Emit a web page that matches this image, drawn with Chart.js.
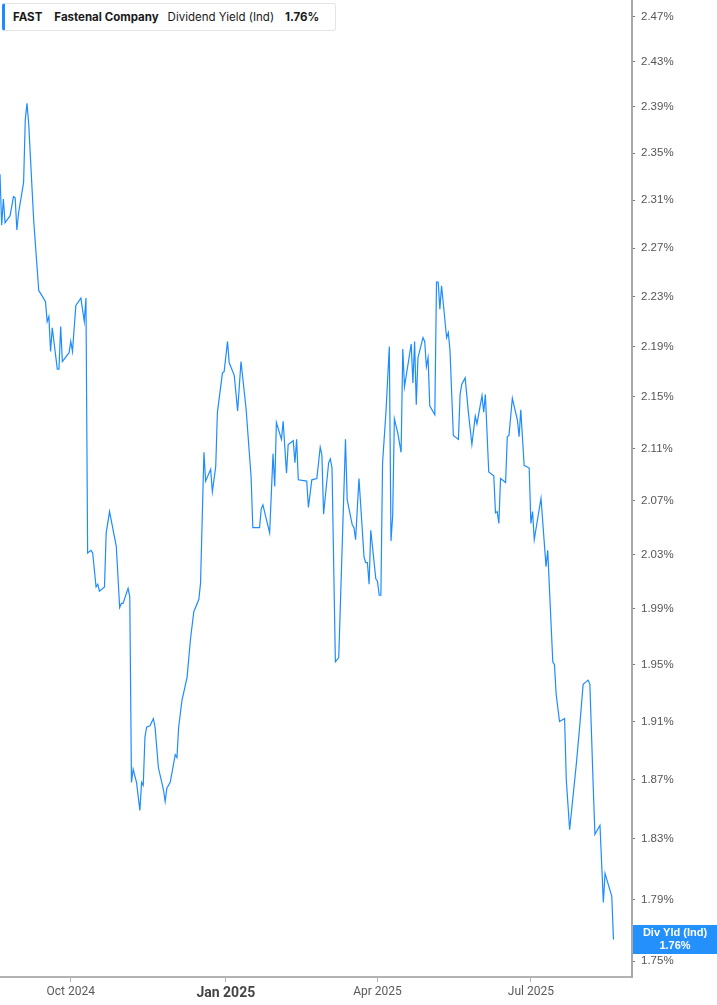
<!DOCTYPE html>
<html>
<head>
<meta charset="utf-8">
<script src="https://cdn.jsdelivr.net/npm/chart.js@4.4.1/dist/chart.umd.min.js"></script>
<style>
  html, body { margin: 0; padding: 0; background: #fff; }
  #wrap { position: relative; width: 717px; height: 1005px; }
  #c { position: absolute; left: 0; top: 0; }
  #legend {
    position: absolute; left: 2px; top: 3px; height: 26px; width: 322px;
    border: 1px solid #e4e4e4; border-left: 3px solid #1e8cff; border-radius: 3px;
    background: #fff; display: flex; align-items: center; padding-left: 8px;
    font: 11.5px Inter, "Noto Sans", sans-serif; color: #1a1a1a; white-space: nowrap;
  }
  #legend .b { font-weight: 700; }
</style>
</head>
<body>
<div id="wrap">
  <canvas id="c" width="717" height="1005"></canvas>
  <div id="legend">
    <span class="b" id="lg-ticker" style="margin-right:12px"></span>
    <span class="b" id="lg-name" style="margin-right:9px"></span>
    <span id="lg-metric" style="margin-right:11px"></span>
    <span class="b" id="lg-value"></span>
  </div>
</div>
<script>
const ticker = "FAST";
const companyName = "Fastenal Company";
const metricName = "Dividend Yield (Ind)";
const metricShort = "Div Yld (Ind)";

const dates = [
"2024-08-20","2024-08-21","2024-08-22","2024-08-23","2024-08-26","2024-08-28","2024-08-29","2024-08-30","2024-08-31","2024-09-03",
"2024-09-04","2024-09-05","2024-09-06","2024-09-09","2024-09-12","2024-09-13","2024-09-16","2024-09-17","2024-09-18","2024-09-19",
"2024-09-20","2024-09-23","2024-09-24","2024-09-25","2024-09-26","2024-09-30","2024-10-01","2024-10-02","2024-10-04","2024-10-07",
"2024-10-09","2024-10-10","2024-10-11","2024-10-13","2024-10-14","2024-10-16","2024-10-17","2024-10-18","2024-10-21","2024-10-22",
"2024-10-24","2024-10-28","2024-10-30","2024-10-31","2024-11-01","2024-11-04","2024-11-05","2024-11-06","2024-11-07","2024-11-09",
"2024-11-11","2024-11-12","2024-11-13","2024-11-14","2024-11-15","2024-11-17","2024-11-19","2024-11-20","2024-11-22","2024-11-25",
"2024-11-26","2024-11-27","2024-11-29","2024-12-02","2024-12-03","2024-12-04","2024-12-06","2024-12-09","2024-12-11","2024-12-13",
"2024-12-16","2024-12-17","2024-12-19","2024-12-20","2024-12-23","2024-12-24","2024-12-26","2024-12-27","2024-12-30","2024-12-31",
"2025-01-02","2025-01-03","2025-01-06","2025-01-08","2025-01-10","2025-01-13","2025-01-16","2025-01-17","2025-01-21","2025-01-22",
"2025-01-23","2025-01-27","2025-01-29","2025-01-30","2025-01-31","2025-02-03","2025-02-04","2025-02-06","2025-02-07","2025-02-10",
"2025-02-11","2025-02-12","2025-02-13","2025-02-18","2025-02-19","2025-02-21","2025-02-24","2025-02-26","2025-02-27","2025-02-28",
"2025-03-03","2025-03-04","2025-03-05","2025-03-07","2025-03-09","2025-03-13","2025-03-14","2025-03-17","2025-03-18","2025-03-19",
"2025-03-21","2025-03-24","2025-03-25","2025-03-26","2025-03-27","2025-03-28","2025-03-31","2025-04-01","2025-04-02","2025-04-03",
"2025-04-04","2025-04-06","2025-04-08","2025-04-09","2025-04-10","2025-04-11","2025-04-13","2025-04-15","2025-04-16","2025-04-17",
"2025-04-21","2025-04-22","2025-04-23","2025-04-24","2025-04-25","2025-04-28","2025-04-29","2025-04-30","2025-05-01","2025-05-02",
"2025-05-05","2025-05-06","2025-05-07","2025-05-08","2025-05-09","2025-05-12","2025-05-13","2025-05-14","2025-05-16","2025-05-19",
"2025-05-20","2025-05-21","2025-05-23","2025-05-25","2025-05-27","2025-05-29","2025-05-30","2025-06-02","2025-06-03","2025-06-04",
"2025-06-06","2025-06-09","2025-06-10","2025-06-11","2025-06-12","2025-06-13","2025-06-16","2025-06-17","2025-06-18","2025-06-20",
"2025-06-23","2025-06-24","2025-06-25","2025-06-27","2025-06-30","2025-07-01","2025-07-02","2025-07-03","2025-07-07","2025-07-10",
"2025-07-11","2025-07-14","2025-07-15","2025-07-16","2025-07-18","2025-07-21","2025-07-22","2025-07-24","2025-07-28","2025-07-30",
"2025-08-01","2025-08-04","2025-08-05","2025-08-07","2025-08-08","2025-08-11","2025-08-13","2025-08-14","2025-08-18","2025-08-19"
];

const yieldValues = [
2.332,2.289,2.311,2.291,2.297,2.313,2.312,2.285,2.299,2.325,
2.379,2.393,2.376,2.293,2.235,2.233,2.226,2.210,2.214,2.186,
2.205,2.172,2.172,2.206,2.178,2.185,2.194,2.186,2.223,2.229,
2.210,2.229,2.031,2.033,2.031,2.006,2.008,2.003,2.006,2.046,
2.062,2.036,1.991,1.994,1.994,2.005,1.999,1.868,1.877,1.868,
1.849,1.868,1.866,1.899,1.906,1.907,1.912,1.906,1.878,1.863,
1.855,1.864,1.868,1.887,1.885,1.906,1.925,1.941,1.968,1.988,
1.997,2.009,2.107,2.085,2.094,2.077,2.096,2.138,2.169,2.170,
2.194,2.177,2.167,2.139,2.178,2.141,2.088,2.050,2.050,2.064,
2.067,2.046,2.106,2.081,2.130,2.117,2.131,2.091,2.113,2.116,
2.099,2.117,2.086,2.085,2.065,2.086,2.087,2.111,2.105,2.060,
2.099,2.102,2.095,1.952,1.955,2.117,2.071,2.052,2.050,2.041,
2.087,2.028,2.024,2.024,2.008,2.048,2.012,2.010,2.000,2.000,
2.099,2.138,2.190,2.040,2.059,2.133,2.122,2.107,2.188,2.158,
2.192,2.161,2.194,2.144,2.181,2.197,2.194,2.174,2.181,2.143,
2.136,2.242,2.242,2.220,2.239,2.197,2.201,2.187,2.120,2.117,
2.152,2.160,2.165,2.137,2.113,2.135,2.129,2.151,2.138,2.152,
2.092,2.089,2.061,2.062,2.053,2.087,2.084,2.119,2.120,2.149,
2.132,2.119,2.140,2.097,2.095,2.053,2.062,2.041,2.072,2.021,
2.033,1.952,1.950,1.929,1.910,1.912,1.870,1.836,1.881,1.907,
1.936,1.939,1.936,1.865,1.833,1.839,1.788,1.807,1.792,1.764
];

const yTickValues = [2.47,2.43,2.39,2.35,2.31,2.27,2.23,2.19,2.15,2.11,2.07,2.03,1.99,1.95,1.91,1.87,1.83,1.79,1.75];
const xTickDates = ["2024-10-01","2025-01-01","2025-04-01","2025-07-01"];
const xTickLabels = ["Oct 2024","Jan 2025","Apr 2025","Jul 2025"];
const xRange = ["2024-08-20","2025-08-30"];
const yRange = [1.742, 2.485];

const DAY = 864e5;
const toDay = s => Date.parse(s) / DAY;
const points = dates.map((d, i) => ({ x: toDay(d), y: yieldValues[i] }));
const lastVal = yieldValues[yieldValues.length - 1];

document.getElementById('lg-ticker').textContent = ticker;
document.getElementById('lg-name').textContent = companyName;
document.getElementById('lg-metric').textContent = metricName;
document.getElementById('lg-value').textContent = lastVal.toFixed(2) + '%';

const lastLabel = {
  id: 'lastLabel',
  afterDraw(chart) {
    const { ctx, chartArea, scales } = chart;
    const y = scales.y.getPixelForValue(lastVal);
    const x0 = chartArea.right + 1;
    const w = chart.width - x0;
    const h = 29;
    ctx.save();
    ctx.fillStyle = '#2490fb';
    ctx.fillRect(x0, Math.round(y - h / 2), w, h);
    ctx.fillStyle = '#ffffff';
    ctx.font = 'bold 11px "Liberation Sans", Arial, sans-serif';
    ctx.textAlign = 'center';
    ctx.textBaseline = 'middle';
    const cx = x0 + w / 2;
    ctx.fillText(metricShort, cx, y - 6.5);
    ctx.fillText(lastVal.toFixed(2) + '%', cx, y + 6.5);
    ctx.restore();
  }
};

function noPad(s) {
  s.paddingTop = 0; s.paddingBottom = 0; s.paddingLeft = 0; s.paddingRight = 0;
}

new Chart(document.getElementById('c'), {
  type: 'line',
  data: {
    datasets: [{
      data: points,
      borderColor: '#1e8cff',
      borderWidth: 1.2,
      pointRadius: 0,
      tension: 0,
      fill: false
    }]
  },
  options: {
    responsive: false,
    animation: false,
    devicePixelRatio: 1,
    layout: { padding: 0 },
    plugins: { legend: { display: false }, tooltip: { enabled: false } },
    scales: {
      x: {
        type: 'linear',
        min: toDay(xRange[0]),
        max: toDay(xRange[1]),
        afterBuildTicks: s => { s.ticks = xTickDates.map(d => ({ value: toDay(d) })); },
        afterFit: s => { s.height = 28; noPad(s); },
        border: { display: true, color: '#b3b3b3', width: 2 },
        grid: { display: true, drawOnChartArea: false, drawTicks: true, tickLength: 5, color: '#b3b3b3', tickWidth: 1 },
        ticks: {
          autoSkip: false,
          maxRotation: 0,
          padding: 3,
          color: ctx => (ctx.index === 1 ? '#444' : '#5a5a5a'),
          font: ctx => (ctx.index === 1
            ? { family: 'Roboto, "Liberation Sans", sans-serif', size: 14, weight: 'bold' }
            : { family: 'Roboto, "Liberation Sans", sans-serif', size: 12 }),
          callback: (v, i) => xTickLabels[i]
        }
      },
      y: {
        type: 'logarithmic',
        position: 'right',
        min: yRange[0],
        max: yRange[1],
        afterBuildTicks: s => { s.ticks = yTickValues.map(v => ({ value: v })); },
        afterFit: s => { s.width = 85; noPad(s); },
        border: { display: true, color: '#a8a8a8', width: 2 },
        grid: { display: true, drawOnChartArea: false, drawTicks: true, tickLength: 3, color: '#777', tickWidth: 1 },
        ticks: {
          autoSkip: false,
          padding: 6,
          color: '#555',
          font: { family: '"Liberation Sans", Arial, sans-serif', size: 11.5 },
          callback: v => Number(v).toFixed(2) + '%'
        }
      }
    }
  },
  plugins: [lastLabel]
});
</script>
</body>
</html>
